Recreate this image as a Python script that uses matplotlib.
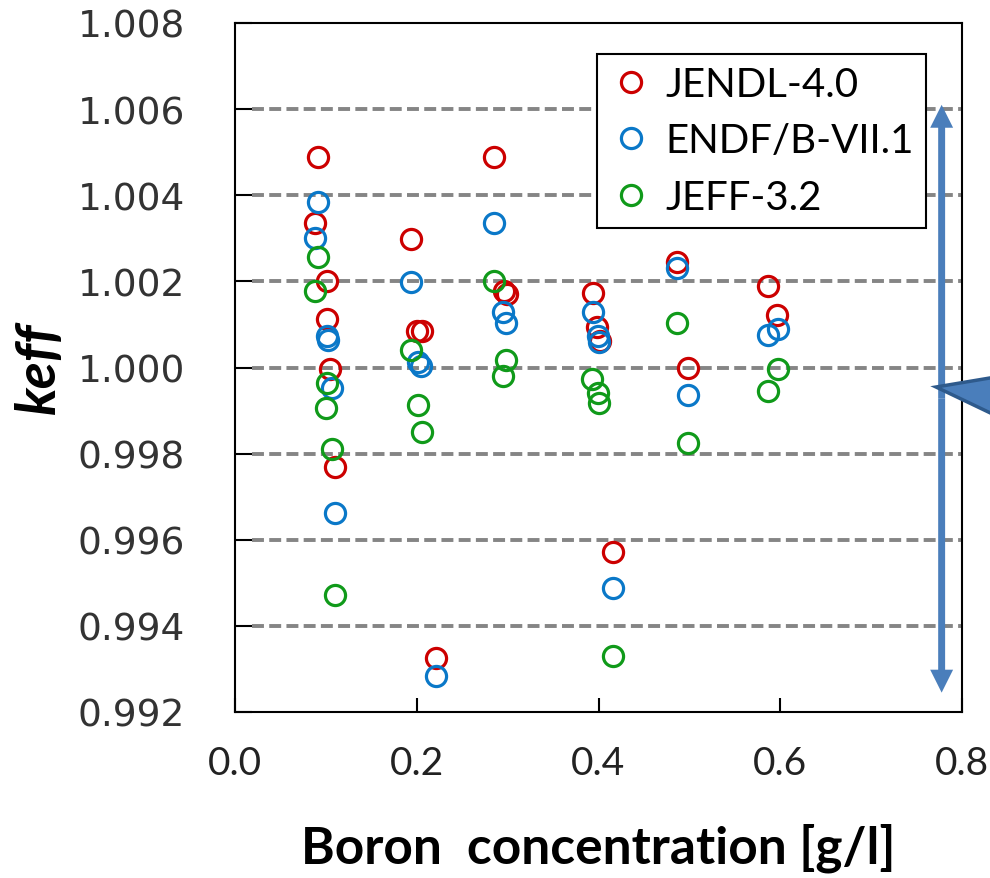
import matplotlib
matplotlib.use("Agg")
import matplotlib.pyplot as plt
from matplotlib.patches import FancyArrowPatch, Polygon

# 数据: 硼浓度 [g/l] 与 keff
jendl_x = [0.091, 0.088, 0.101, 0.101, 0.105, 0.110,
           0.194, 0.200, 0.206, 0.221,
           0.285, 0.296, 0.299,
           0.394, 0.398, 0.402, 0.416,
           0.486, 0.498,
           0.586, 0.596]
jendl_y = [1.00488, 1.00336, 1.00200, 1.00112, 0.99997, 0.99768,
           1.00299, 1.00084, 1.00084, 0.99326,
           1.00488, 1.00178, 1.00170,
           1.00174, 1.00094, 1.00062, 0.99571,
           1.00245, 0.99999,
           1.00189, 1.00121]

endf_x = [0.091, 0.088, 0.101, 0.102, 0.107, 0.110,
          0.194, 0.201, 0.205, 0.221,
          0.285, 0.295, 0.298,
          0.394, 0.399, 0.400, 0.416,
          0.486, 0.498,
          0.586, 0.597]
endf_y = [1.00385, 1.00301, 1.00073, 1.00063, 0.99953, 0.99662,
          1.00199, 1.00013, 1.00004, 0.99283,
          1.00335, 1.00129, 1.00104,
          1.00130, 1.00073, 1.00060, 0.99488,
          1.00231, 0.99936,
          1.00076, 1.00089]

jeff_x = [0.091, 0.088, 0.101, 0.100, 0.107, 0.110,
          0.194, 0.201, 0.206,
          0.285, 0.298, 0.295,
          0.393, 0.399, 0.401, 0.416,
          0.486, 0.498,
          0.597, 0.586]
jeff_y = [1.00257, 1.00178, 0.99963, 0.99907, 0.99811, 0.99472,
          1.00040, 0.99914, 0.99851,
          1.00200, 1.00017, 0.99981,
          0.99973, 0.99940, 0.99917, 0.99330,
          1.00104, 0.99824,
          0.99996, 0.99945]

series = [
    ("JENDL-4.0", jendl_x, jendl_y, "#cc0000"),
    ("ENDF/B-VII.1", endf_x, endf_y, "#0a78c8"),
    ("JEFF-3.2", jeff_x, jeff_y, "#109a1a"),
]

x_ticks = [0.0, 0.2, 0.4, 0.6, 0.8]
y_ticks = [0.992, 0.994, 0.996, 0.998, 1.000, 1.002, 1.004, 1.006, 1.008]

# 误差范围箭头 (数据坐标)
arrow_x = 0.7776
arrow_top = 1.0061
arrow_bottom = 0.99245

plt.rcParams['lines.scale_dashes'] = False

fig = plt.figure(figsize=(9.9, 8.79), dpi=100)
ax = fig.add_axes([235 / 990, 1 - 713 / 879, 727 / 990, 689 / 879])

for name, xs, ys, c in series:
    ax.plot(xs, ys, linestyle='none', marker='o', markersize=14.5,
            markerfacecolor='none', markeredgecolor=c, markeredgewidth=2.3,
            label=name, zorder=3)

ax.set_xlim(0.0, 0.8)
ax.set_ylim(0.992, 1.008)
ax.set_xticks(x_ticks)
ax.set_xticklabels(['%.1f' % v for v in x_ticks], family='Lato', fontsize=28, color='#222222')
ax.set_yticks(y_ticks)
ax.set_yticklabels(['%.3f' % v for v in y_ticks], family='DejaVu Sans', fontsize=27, color='#333333')
ax.tick_params(axis='y', direction='in', length=12, width=1.5, pad=36)
ax.tick_params(axis='x', direction='in', length=10, width=1.5, pad=24)

for g in y_ticks[1:-1]:
    ax.axhline(g, xmin=0.024, color='#858585', linewidth=2.8, linestyle=(0, (8.6, 3.8)), zorder=1)

for s in ax.spines.values():
    s.set_linewidth(1.5)
    s.set_color('black')

ax.set_xlabel('Boron  concentration [g/l]', family='Lato', fontweight='bold', fontsize=37, labelpad=30)
ax.set_ylabel('keff', family='Lato', fontweight='bold', fontstyle='italic', fontsize=40, labelpad=10)

leg = ax.legend(loc='upper left', bbox_to_anchor=(0.498, 0.955), borderaxespad=0,
                prop={'family': 'Lato', 'size': 29}, fancybox=False, framealpha=1,
                edgecolor='black', handlelength=1.1, handletextpad=0.3,
                labelspacing=0.48, borderpad=0.3)
leg.get_frame().set_linewidth(1.5)
leg.set_zorder(5)

# 双向箭头
mid = (arrow_top + arrow_bottom) / 2
for end in (arrow_top, arrow_bottom):
    a = FancyArrowPatch((arrow_x, mid), (arrow_x, end),
                        arrowstyle='simple,head_length=1.65,head_width=1.65,tail_width=0.5',
                        mutation_scale=10, color='#4a7ebb', lw=0, shrinkA=0, shrinkB=0,
                        clip_on=False, zorder=4)
    ax.add_patch(a)

# 右侧标注三角
tri = Polygon([(936 / 990, 1 - 388 / 879), (1.03, 1 - 374 / 879), (1.03, 1 - 428 / 879)],
              closed=True, transform=fig.transFigure, facecolor='#4a7ebb',
              edgecolor='#2e5a8c', linewidth=2.5, clip_on=False)
fig.add_artist(tri)

fig.savefig('out.png', dpi=100)
